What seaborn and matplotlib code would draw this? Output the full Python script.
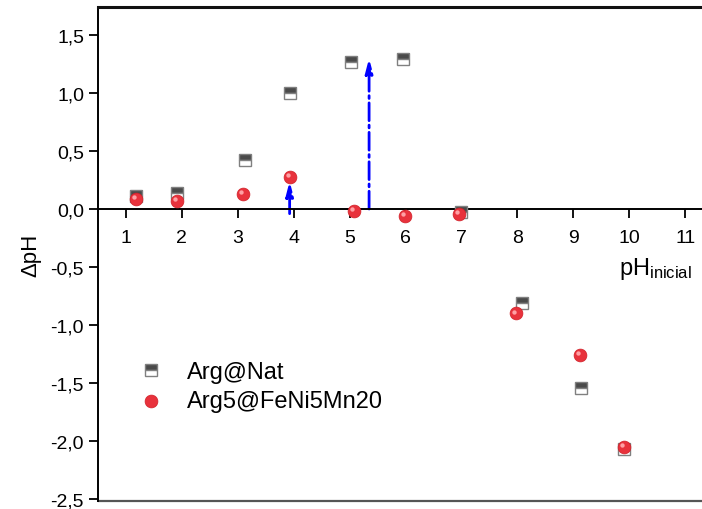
import numpy as np
import pandas as pd
import seaborn as sns
import matplotlib.pyplot as plt
from matplotlib import transforms

# data
ph_nat = [1.19, 1.91, 3.14, 3.94, 5.02, 5.95, 7.00, 8.09, 9.14, 9.91]
dph_nat = [0.11, 0.135, 0.42, 1.00, 1.27, 1.29, -0.03, -0.81, -1.54, -2.07]
ph_fe = [1.19, 1.92, 3.10, 3.94, 5.08, 5.99, 6.96, 7.97, 9.12, 9.90]
dph_fe = [0.086, 0.072, 0.13, 0.28, -0.02, -0.06, -0.04, -0.90, -1.26, -2.05]
arrow_x = [3.93, 5.35]
arrow_y0 = [-0.04, 0.0]
arrow_y1 = [0.24, 1.30]
xticks = list(range(1, 12))
yticks = [1.5, 1.0, 0.5, 0.0, -0.5, -1.0, -1.5, -2.0, -2.5]

sns.set_theme(style='white')
plt.rcParams['font.family'] = ['Liberation Sans', 'DejaVu Sans']
plt.rcParams['mathtext.fontset'] = 'custom'
plt.rcParams['mathtext.rm'] = 'Liberation Sans'
plt.rcParams['mathtext.default'] = 'regular'
plt.rcParams['text.color'] = 'black'
plt.rcParams['axes.labelcolor'] = 'black'

df_nat = pd.DataFrame({'x': ph_nat, 'y': dph_nat})
df_fe = pd.DataFrame({'x': ph_fe, 'y': dph_fe})

fig = plt.figure(figsize=(7.02, 5.10), dpi=100)
ax = fig.add_axes([0.1396, 0.0157, 0.8604, 0.9686])

sns.lineplot(data=df_nat, x='x', y='y', ax=ax, sort=False, linestyle='',
             marker='s', markersize=8, fillstyle='top', color='#4a4a4a',
             markerfacecoloralt='white', markeredgecolor='#808080',
             markeredgewidth=1.0, label='Arg@Nat', zorder=3)
sns.scatterplot(data=df_fe, x='x', y='y', ax=ax, s=85, color='#e8323c',
                edgecolor='#d02028', linewidth=0.5, label='Arg5@FeNi5Mn20',
                zorder=4)
# small highlight on the spheres
hl = transforms.offset_copy(ax.transData, fig=fig, x=-1.4, y=1.4, units='points')
ax.scatter(ph_fe, dph_fe, s=10, color='#ffa0a4', linewidth=0, transform=hl, zorder=5)

for x, y0, y1 in zip(arrow_x, arrow_y0, arrow_y1):
    ax.annotate('', xy=(x, y1), xytext=(x, y0),
                arrowprops=dict(arrowstyle='-|>,head_length=0.7,head_width=0.18',
                                color='#0000ff', lw=2, linestyle='-.',
                                shrinkA=0, shrinkB=0), zorder=2)

ax.set_xlim(0.505, 11.3)
ax.set_ylim(-2.515, 1.74)
ax.set_xticks(xticks)
ax.set_yticks(yticks)
ax.set_yticklabels([f'{v:.1f}'.replace('.', ',') for v in yticks])
ax.tick_params(axis='both', direction='out', length=6.5, width=1.3,
               labelsize=14, colors='black', left=True, bottom=True)
ax.tick_params(axis='x', pad=8)

ax.spines['bottom'].set_position(('data', 0))
ax.spines['bottom'].set_linewidth(1.4)
ax.spines['bottom'].set_color('black')
ax.spines['left'].set_linewidth(1.4)
ax.spines['left'].set_color('black')
ax.spines['top'].set_linewidth(2.2)
ax.spines['top'].set_color('#111111')
ax.spines['right'].set_visible(False)
ax.plot([0, 1], [0, 0], transform=ax.transAxes, color='#555555', lw=1.6,
        clip_on=False)

ax.set_xlabel('')
ax.set_ylabel('\u0394pH', fontsize=16, labelpad=7)
ax.text(9.81, -0.56, r'pH$_{inicial}$', fontsize=17, va='baseline', ha='left')

ax.legend(loc='upper left', bbox_to_anchor=(0.052, 0.302), frameon=False,
          fontsize=17, handlelength=1.0, handletextpad=1.05, labelspacing=0.3,
          borderaxespad=0)

plt.savefig('out.png', dpi=100)
